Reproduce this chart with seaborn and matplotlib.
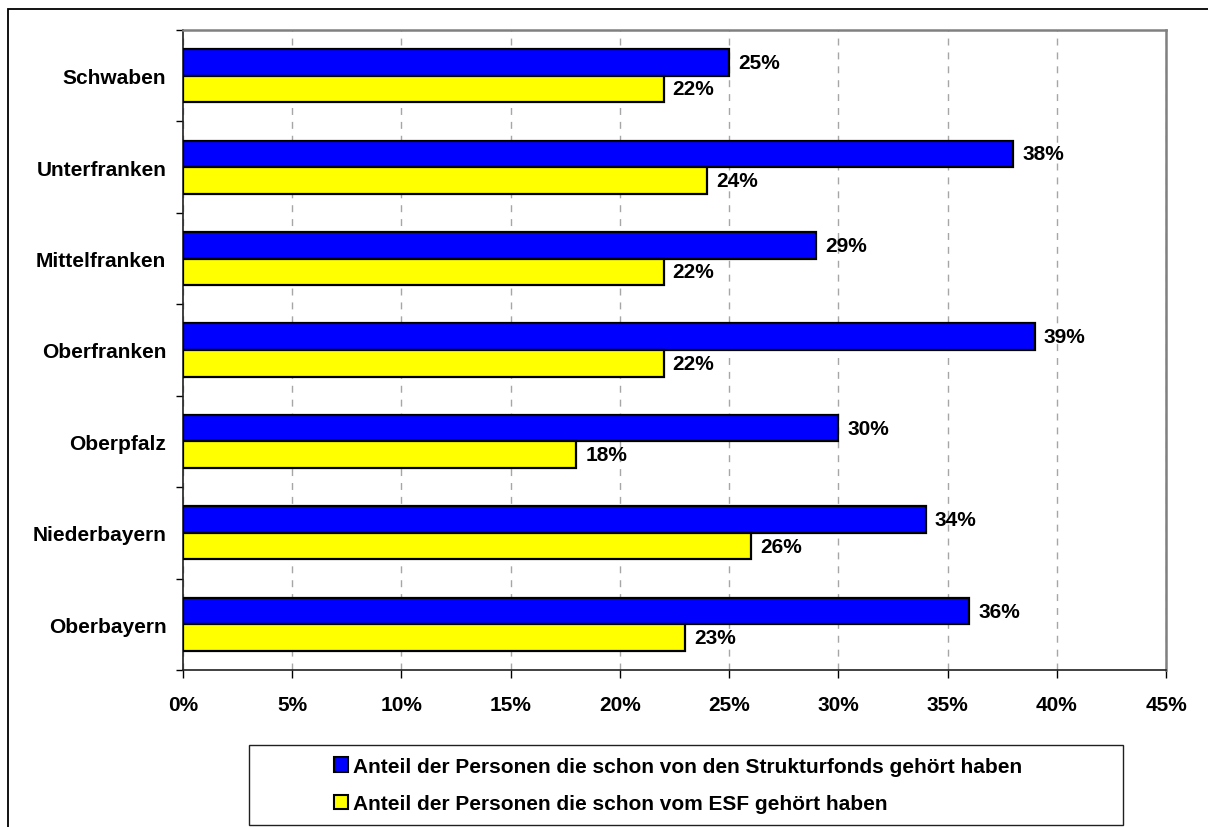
#!/usr/bin/env python3
import matplotlib
matplotlib.use('Agg')
import matplotlib.pyplot as plt
import matplotlib.patches as mpatches
import matplotlib.ticker as plticker
import pandas as pd
import seaborn as sns

REGIONS = ['Schwaben', 'Unterfranken', 'Mittelfranken', 'Oberfranken',
           'Oberpfalz', 'Niederbayern', 'Oberbayern']
STRUKTURFONDS = [25, 38, 29, 39, 30, 34, 36]
ESF = [22, 24, 22, 22, 18, 26, 23]
SERIES_LABELS = ['Anteil der Personen die schon von den Strukturfonds gehört haben',
                 'Anteil der Personen die schon vom ESF gehört haben']
X_TICKS = [0, 5, 10, 15, 20, 25, 30, 35, 40, 45]
COLORS = ['#0000FF', '#FFFF00']
FONT_SIZE = 15


def main():
    sns.set_style('white')
    plt.rcParams['font.family'] = ['Liberation Sans', 'DejaVu Sans']
    plt.rcParams['font.weight'] = 'bold'
    plt.rcParams['text.color'] = 'black'
    plt.rcParams['xtick.color'] = 'black'
    plt.rcParams['ytick.color'] = 'black'
    plt.rcParams['xtick.labelcolor'] = 'black'
    plt.rcParams['ytick.labelcolor'] = 'black'

    df = pd.DataFrame({
        'Region': REGIONS * 2,
        'Wert': STRUKTURFONDS + ESF,
        'Serie': [SERIES_LABELS[0]] * len(REGIONS) + [SERIES_LABELS[1]] * len(REGIONS),
    })

    fig = plt.figure(figsize=(12.08, 8.28), dpi=100)
    ax = fig.add_axes([183 / 1208, 1 - 671 / 828, (1166 - 183) / 1208, (671 - 31) / 828])

    sns.barplot(data=df, x='Wert', y='Region', hue='Serie', orient='h',
                palette=dict(zip(SERIES_LABELS, COLORS)), width=0.58, gap=0,
                edgecolor='black', linewidth=1.6, saturation=1, legend=False, ax=ax, zorder=3)

    for container in ax.containers:
        ax.bar_label(container, fmt='%d%%', padding=6.5, fontsize=FONT_SIZE,
                     fontweight='bold', color='black')

    # axes, ticks, grid
    ax.set_xlim(0, 45)
    ax.set_ylim(len(REGIONS) - 0.5, -0.5)
    ax.set_xticks(X_TICKS)
    ax.set_xticklabels([f'{t}%' for t in X_TICKS], fontsize=FONT_SIZE, fontweight='bold')
    ax.set_yticks(range(len(REGIONS)))
    ax.set_yticklabels(REGIONS, fontsize=FONT_SIZE, fontweight='bold')
    ax.yaxis.set_minor_locator(plticker.FixedLocator([i - 0.5 for i in range(len(REGIONS) + 1)]))
    ax.tick_params(axis='y', which='major', length=0, pad=12)
    ax.tick_params(axis='y', which='minor', length=5, width=1, color='black', direction='out', left=True)
    ax.tick_params(axis='x', which='major', length=6, width=1, color='black', direction='out',
                   bottom=True, pad=12)
    ax.set_xlabel('')
    ax.set_ylabel('')
    ax.xaxis.grid(True, color='#A6A6A6', linestyle=(0, (5, 5)), linewidth=1, zorder=0)
    ax.yaxis.grid(False)
    ax.set_axisbelow(True)

    for side in ['top', 'right']:
        ax.spines[side].set_color('#808080')
        ax.spines[side].set_linewidth(1.8)
    for side in ['left', 'bottom']:
        ax.spines[side].set_color('#202020')
        ax.spines[side].set_linewidth(1.2)

    # legend with its own box
    handles = [mpatches.Patch(facecolor=c, edgecolor='black', linewidth=1.5) for c in COLORS]
    fig.legend(handles, SERIES_LABELS, loc='center', bbox_to_anchor=(678 / 1208, 1 - 786 / 828),
               frameon=False, prop={'weight': 'bold', 'size': FONT_SIZE},
               handlelength=0.7, handleheight=0.7, handletextpad=0.25, labelspacing=0.9)
    fig.patches.append(mpatches.Rectangle((249 / 1208, 1 - 826 / 828), (1123 - 249) / 1208, 80 / 828,
                                          transform=fig.transFigure, fill=False,
                                          edgecolor='#202020', linewidth=1))

    # outer chart border
    fig.patches.append(mpatches.Rectangle((8 / 1208, -0.1), 1.2, 1.1 - 10 / 828,
                                          transform=fig.transFigure, fill=False,
                                          edgecolor='black', linewidth=1.3))

    fig.savefig('out.png', dpi=100, facecolor='white')


if __name__ == '__main__':
    main()
